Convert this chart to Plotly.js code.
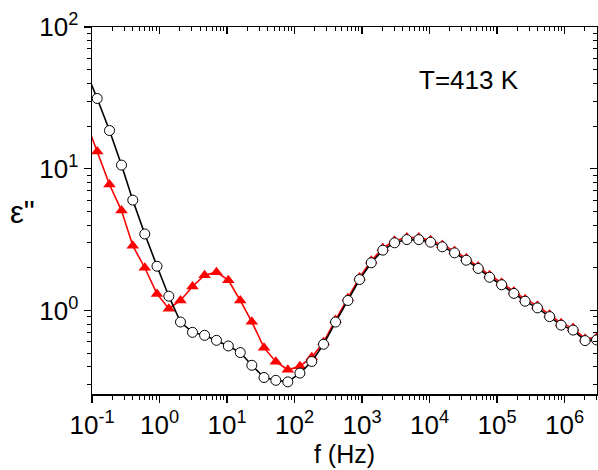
<!DOCTYPE html>
<html>
<head>
<meta charset="utf-8">
<script src="https://cdn.plot.ly/plotly-3.0.1.min.js"></script>
<style>html,body{margin:0;padding:0;background:#fff;}#chart{width:598px;height:470px;}</style>
</head>
<body>
<div id="chart"></div>
<script>
// Frequencies (Hz) of the measured points (first value lies just left of the axis range)
const freq = [0.0794, 0.1194, 0.1816, 0.2735, 0.4018, 0.605, 0.918, 1.374, 2.046, 3.08, 4.65,
  6.98, 10.45, 15.7, 23.3, 35.3, 52.8, 79.6, 120, 180, 269, 405, 617, 918, 1368, 2032,
  3027, 4613, 6934, 10350, 15420, 23440, 34990, 52600, 77450, 116700, 177400, 260000,
  395500, 600000, 887000, 1337000, 2014000, 2979000];

// epsilon'' : open circles, black
const epsBlack = [50.2, 31.3, 18.6, 10.6, 6.0, 3.46, 2.05, 1.26, 0.828, 0.700, 0.667,
  0.615, 0.561, 0.504, 0.410, 0.336, 0.321, 0.313, 0.361, 0.436, 0.577, 0.828, 1.175,
  1.652, 2.168, 2.661, 3.00, 3.16, 3.16, 3.03, 2.81, 2.547, 2.26, 1.977, 1.714, 1.517,
  1.318, 1.161, 1.042, 0.904, 0.787, 0.726, 0.612, 0.619];

// epsilon'' : filled triangles, red
const epsRed = [22.2, 13.24, 7.74, 5.06, 2.86, 2.00, 1.307, 1.028, 1.175, 1.475, 1.773,
  1.862, 1.634, 1.175, 0.830, 0.546, 0.434, 0.381, 0.404, 0.467, 0.596, 0.857, 1.216,
  1.707, 2.24, 2.75, 3.10, 3.27, 3.27, 3.13, 2.90, 2.63, 2.33, 2.04, 1.77, 1.57,
  1.36, 1.20, 1.08, 0.934, 0.813, 0.75, 0.632, 0.64];

// tick labels
const xTickVals = [0.1, 1, 10, 100, 1e3, 1e4, 1e5, 1e6];
const xTickText = ['10<sup>-1</sup>', '10<sup>0</sup>', '10<sup>1</sup>', '10<sup>2</sup>',
  '10<sup>3</sup>', '10<sup>4</sup>', '10<sup>5</sup>', '10<sup>6</sup>'];
const yTickVals = [1, 10, 100];
const yTickText = ['10<sup>0</sup>', '10<sup>1</sup>', '10<sup>2</sup>'];

const xRange = [-1, 6.48];
const yRange = [-0.59, 2];
const fontFam = 'Liberation Sans, Arial, sans-serif';

// minor tick positions (2..9 in each decade)
function minorVals(lo, hi) {
  const v = [];
  for (let e = lo; e <= hi; e++) for (let m = 2; m <= 9; m++) v.push(m * Math.pow(10, e));
  return v;
}
const xMinor = minorVals(-1, 6);
const yMinor = minorVals(-1, 1);

const traces = [
  {
    x: freq, y: epsRed, type: 'scatter', mode: 'lines+markers',
    xaxis: 'x', yaxis: 'y',
    line: {color: '#ff0000', width: 1.6},
    marker: {symbol: 'triangle-up', size: 11, color: '#ff0000', line: {width: 0}},
    showlegend: false
  },
  {
    x: freq, y: epsBlack, type: 'scatter', mode: 'lines+markers',
    xaxis: 'x2', yaxis: 'y2',
    line: {color: '#000000', width: 1.6},
    marker: {symbol: 'circle', size: 10, color: '#ffffff', line: {color: '#000000', width: 1}},
    showlegend: false
  }
];

const axBase = {
  type: 'log', showgrid: false, zeroline: false,
  showline: true, linecolor: '#000', linewidth: 1.5,
  tickcolor: '#000', tickwidth: 1.5, ticklen: 7, tickmode: 'array'
};

const layout = {
  width: 598, height: 470,
  margin: {l: 92, r: 1, t: 27, b: 76},
  paper_bgcolor: '#fff', plot_bgcolor: '#fff',
  font: {family: fontFam, color: '#000'},
  xaxis: Object.assign({}, axBase, {
    range: xRange, ticks: 'outside', tickvals: xTickVals, ticktext: xTickText,
    tickfont: {size: 26, family: fontFam, color: '#000'},
    minor: {tickmode: 'array', tickvals: xMinor, ticks: 'outside', ticklen: 4, tickwidth: 1, tickcolor: '#000'},
    title: {text: 'f (Hz)', font: {size: 25, family: fontFam, color: '#000'}, standoff: 6}
  }),
  yaxis: Object.assign({}, axBase, {
    range: yRange, ticks: 'outside', tickvals: yTickVals, ticktext: yTickText,
    tickfont: {size: 26, family: fontFam, color: '#000'},
    minor: {tickmode: 'array', tickvals: yMinor, ticks: 'outside', ticklen: 4, tickwidth: 1, tickcolor: '#000'}
  }),
  xaxis2: Object.assign({}, axBase, {
    range: xRange, overlaying: 'x', side: 'top', anchor: 'y2', ticks: 'inside',
    tickvals: xTickVals, showticklabels: false,
    minor: {tickmode: 'array', tickvals: xMinor, ticks: 'inside', ticklen: 4, tickwidth: 1, tickcolor: '#000'}
  }),
  yaxis2: Object.assign({}, axBase, {
    range: yRange, overlaying: 'y', side: 'right', anchor: 'x2', ticks: 'inside',
    tickvals: yTickVals, showticklabels: false,
    minor: {tickmode: 'array', tickvals: yMinor, ticks: 'inside', ticklen: 4, tickwidth: 1, tickcolor: '#000'}
  }),
  annotations: [
    {text: 'T=413 K', xref: 'paper', yref: 'paper', x: 0.6436, y: 0.8556,
     xanchor: 'left', yanchor: 'middle', showarrow: false,
     font: {size: 26, family: fontFam, color: '#000'}},
    {text: 'ε"', xref: 'paper', yref: 'paper', x: -0.166, y: 0.495,
     xanchor: 'left', yanchor: 'middle', showarrow: false,
     font: {size: 31, family: fontFam, color: '#000'}}
  ]
};

Plotly.newPlot('chart', traces, layout, {staticPlot: true, displayModeBar: false});
</script>
</body>
</html>
